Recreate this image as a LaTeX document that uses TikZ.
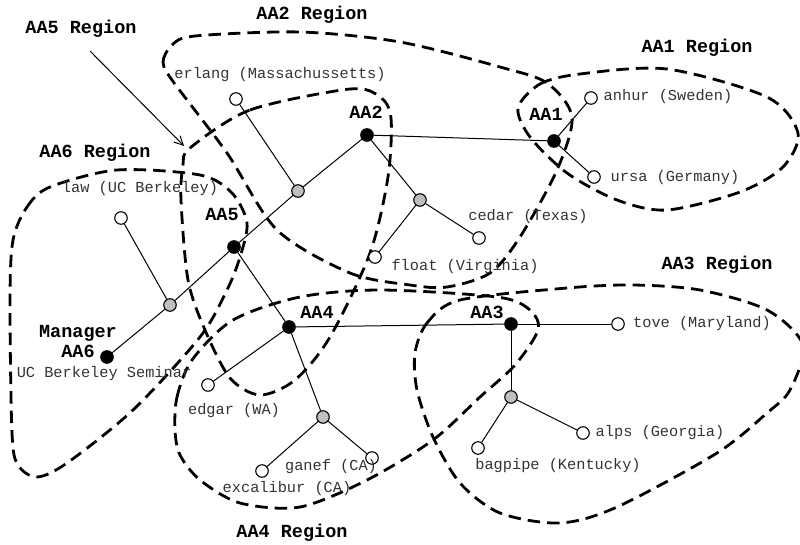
\documentclass[tikz,border=0pt]{standalone}
\usepackage{fontspec}
\setmonofont{Liberation Mono}
\usetikzlibrary{arrows.meta}

\tikzset{
  manager/.style={circle,draw=black,fill=black,line width=1.1pt,inner sep=0pt,minimum size=12.5pt},
  relay/.style={circle,draw=black,fill=black!25,line width=1.1pt,inner sep=0pt,minimum size=12.5pt},
  host/.style={circle,draw=black,fill=white,line width=1.1pt,inner sep=0pt,minimum size=12.5pt},
  link/.style={line width=1pt},
  region/.style={line width=2.8pt,dash pattern=on 12.5pt off 7pt},
  hostname/.style={inner sep=0pt,text=black!80,font=\fontsize{15.3}{17}\selectfont\ttfamily},
  aaname/.style={inner sep=0pt,font=\fontsize{18.5}{20}\selectfont\ttfamily\bfseries}
}

\begin{document}
\begin{tikzpicture}[x=1pt,y=-1pt]
\useasboundingbox (0,0) rectangle (800,544);

\draw[region] plot[smooth cycle] coordinates {(172,80) (163,62) (172,45) (195,36) (300,32) (400,42) (500,67) (547,83) (572,117) (557,170) (520,237) (490,273) (447,287) (410,285) (350,273) (277,230) (227,153)};
\draw[region] plot[smooth cycle] coordinates {(190,148) (250,110) (350,89) (380,97) (391,118) (388,177) (370,253) (330,337) (295,380) (260,395) (230,378) (205,330) (188,280) (181,200) (183,165)};
\draw[region] plot[smooth cycle] coordinates {(13,240) (27,207) (50,187) (117,170) (200,175) (232,193) (247,223) (240,257) (227,290) (200,337) (133,410) (67,463) (37,477) (18,465) (12,433) (10,300)};
\draw[region] plot[smooth cycle] coordinates {(518,108) (540,84) (580,74) (667,69) (767,97) (798,133) (783,167) (740,192) (667,210) (617,200) (567,173) (530,137)};
\draw[region] plot[smooth cycle] coordinates {(175,430) (177,397) (192,360) (233,320) (300,297) (380,290) (497,297) (530,310) (538,330) (515,365) (480,397) (433,440) (367,480) (300,507) (240,503) (200,480) (180,455)};
\draw[region] plot[smooth cycle] coordinates {(415,353) (427,323) (460,300) (567,288) (633,285) (700,290) (767,310) (803,345) (790,390) (767,413) (717,453) (617,507) (560,523) (500,513) (460,483) (433,437) (417,390)};

\node[manager] (aa2) at (367,135) {};
\node[manager] (aa1) at (554,141) {};
\node[manager] (aa5) at (234,247) {};
\node[manager] (aa4) at (289,327) {};
\node[manager] (aa3) at (511,324) {};
\node[manager] (aa6) at (107,357) {};

\node[relay] (r25) at (298,191) {};
\node[relay] (r2) at (420,200) {};
\node[relay] (r56) at (170,305) {};
\node[relay] (r4) at (323,417) {};
\node[relay] (r3) at (511,397) {};

\node[host] (erlang) at (236,99) {};
\node[host] (law) at (121,218) {};
\node[host] (anhur) at (591,98) {};
\node[host] (ursa) at (594,177) {};
\node[host] (cedar) at (479,238) {};
\node[host] (float) at (375,257) {};
\node[host] (tove) at (618,324) {};
\node[host] (edgar) at (208,385) {};
\node[host] (excalibur) at (262,471) {};
\node[host] (ganef) at (372,458) {};
\node[host] (bagpipe) at (478,448) {};
\node[host] (alps) at (583,433) {};

\draw[link] (aa2) -- (aa1);
\draw[link] (aa2) -- (r25);
\draw[link] (r25) -- (erlang);
\draw[link] (r25) -- (aa5);
\draw[link] (aa2) -- (r2);
\draw[link] (r2) -- (float);
\draw[link] (r2) -- (cedar);
\draw[link] (aa1) -- (anhur);
\draw[link] (aa1) -- (ursa);
\draw[link] (aa5) -- (r56);
\draw[link] (r56) -- (law);
\draw[link] (r56) -- (aa6);
\draw[link] (aa5) -- (aa4);
\draw[link] (aa4) -- (aa3);
\draw[link] (aa4) -- (edgar);
\draw[link] (aa4) -- (r4);
\draw[link] (r4) -- (excalibur);
\draw[link] (r4) -- (ganef);
\draw[link] (aa3) -- (tove);
\draw[link] (aa3) -- (r3);
\draw[link] (r3) -- (bagpipe);
\draw[link] (r3) -- (alps);

\node[aaname] (reg5) at (81,29) {AA5 Region};
\node[aaname] (reg2) at (312,15) {AA2 Region};
\node[aaname] (reg1) at (697,48) {AA1 Region};
\node[aaname] (reg6) at (95,153) {AA6 Region};
\node[aaname] (reg3) at (717,265) {AA3 Region};
\node[aaname] (reg4) at (292,533) {AA4 Region};

\node[aaname] (lbl-aa2) at (366,112) {AA2};
\node[aaname] (lbl-aa1) at (546,114) {AA1};
\node[aaname] (lbl-aa5) at (222,214) {AA5};
\node[aaname] (lbl-aa4) at (317,312) {AA4};
\node[aaname] (lbl-aa3) at (487,312) {AA3};
\node[aaname,align=center] (lbl-aa6) at (78,341) {Manager\\AA6};

\node[hostname] (lbl-seminar) at (104,374) {UC Berkeley Seminar};
\node[hostname] (lbl-law) at (140,189) {law (UC Berkeley)};
\node[hostname] (lbl-erlang) at (280,75) {erlang (Massachussetts)};
\node[hostname] (lbl-anhur) at (668,97) {anhur (Sweden)};
\node[hostname] (lbl-ursa) at (675,178) {ursa (Germany)};
\node[hostname] (lbl-cedar) at (528,217) {cedar (Texas)};
\node[hostname] (lbl-float) at (465,267) {float (Virginia)};
\node[hostname] (lbl-tove) at (702,324) {tove (Maryland)};
\node[hostname] (lbl-edgar) at (234,411) {edgar (WA)};
\node[hostname] (lbl-ganef) at (331,467) {ganef (CA)};
\node[hostname] (lbl-excalibur) at (287,489) {excalibur (CA)};
\node[hostname] (lbl-bagpipe) at (558,466) {bagpipe (Kentucky)};
\node[hostname] (lbl-alps) at (660,433) {alps (Georgia)};

\coordinate (pointer-tail) at (90,51);
\coordinate (pointer-tip) at (184,146);
\draw[link,-{Straight Barb[length=9pt,width=9pt,line width=1pt]}] (pointer-tail) -- (pointer-tip);

\end{tikzpicture}
\end{document}
